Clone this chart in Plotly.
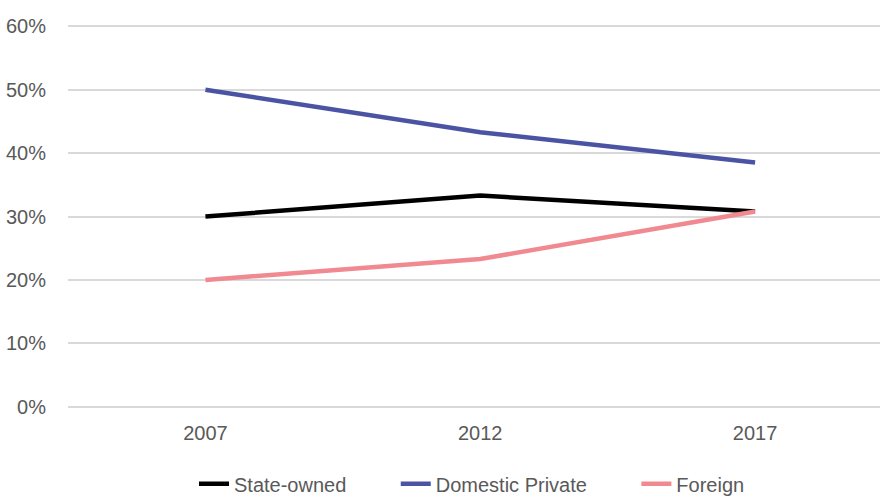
import plotly.graph_objects as go

years = ["2007", "2012", "2017"]
state_owned = [0.30, 0.333, 0.308]
domestic_private = [0.50, 0.433, 0.385]
foreign = [0.20, 0.233, 0.308]
y_ticks = [0, 0.1, 0.2, 0.3, 0.4, 0.5, 0.6]
y_tick_labels = ["0%", "10%", "20%", "30%", "40%", "50%", "60%"]
series_names = ["State-owned", "Domestic Private", "Foreign"]
series_colors = ["#000000", "#4B54A3", "#F08A90"]
series_values = [state_owned, domestic_private, foreign]

FONT = "Liberation Sans, Arial, sans-serif"
PAD = "\u00a0" * 8

fig = go.Figure()
for i, (name, vals, color) in enumerate(zip(series_names, series_values, series_colors)):
    label = name + (PAD if i < len(series_names) - 1 else "")
    fig.add_trace(go.Scatter(x=years, y=vals, mode="lines", name=label,
                             line=dict(color=color, width=4.5)))

fig.update_layout(
    width=880, height=497,
    paper_bgcolor="white", plot_bgcolor="white",
    margin=dict(l=68, r=0, t=25.3, b=88.7, autoexpand=False),
    font=dict(family=FONT, size=20, color="#595959"),
    showlegend=True,
    legend=dict(orientation="h", x=(209 - 68 - 15) / 812, xanchor="left", y=-0.198, yanchor="middle",
                font=dict(family=FONT, size=20, color="#595959"),
                bgcolor="rgba(0,0,0,0)"),
    xaxis=dict(type="category", range=[-0.5, 2.4545], showgrid=False, zeroline=False,
               showline=False, ticks="", ticklabelstandoff=11),
    yaxis=dict(range=[-0.002, 0.602], tickvals=y_ticks, ticktext=y_tick_labels,
               showgrid=True, gridcolor="#D9D9D9", gridwidth=1.5, zeroline=False,
               showline=False, ticks="", ticklabelstandoff=21),
)

fig.write_html("out.html", config={"displayModeBar": False},
               post_script="document.body.style.margin='0';")
